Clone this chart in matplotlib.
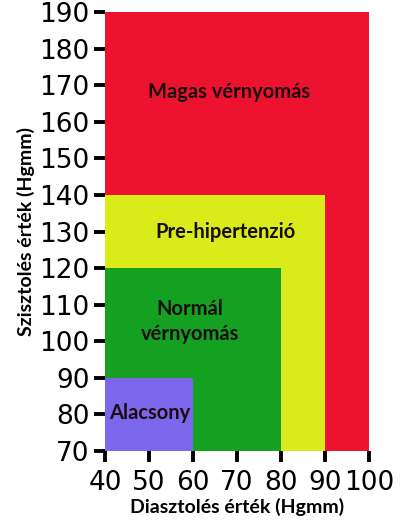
import matplotlib
matplotlib.use("Agg")
import matplotlib.pyplot as plt
from matplotlib.patches import Rectangle

# Zones: (label, diastolic upper, systolic upper, colour)
zone_labels = ["Magas vérnyomás", "Pre-hipertenzió", "Normál\nvérnyomás", "Alacsony"]
dia_upper = [100, 90, 80, 60]
sys_upper = [190, 140, 120, 90]
zone_colors = ["#EE1231", "#D9EC19", "#14A021", "#7B66EC"]
label_x = [68.3, 67.3, 59.3, 50.2]
label_y = [168.1, 130.0, 105.3, 80.4]

x_ticks = [40, 50, 60, 70, 80, 90, 100]
y_ticks = [70, 80, 90, 100, 110, 120, 130, 140, 150, 160, 170, 180, 190]
x_min, y_min = 40, 70

fig = plt.figure(figsize=(4.0, 5.24), dpi=100)
ax = fig.add_axes([0.2625, 0.1393, 0.66, 0.8377])

for du, su, c in zip(dia_upper, sys_upper, zone_colors):
    ax.add_patch(Rectangle((x_min, y_min), du - x_min, su - y_min,
                           facecolor=c, edgecolor="none"))

txt_font = dict(family=["Lato", "DejaVu Sans"], fontweight="bold", fontsize=14.5,
                color="#1a0d0d")
for lab, lx, ly in zip(zone_labels, label_x, label_y):
    ax.text(lx, ly, lab, ha="center", va="center", linespacing=1.3, **txt_font)

ax.set_xlim(40, 100)
ax.set_ylim(70, 190)
ax.set_xticks(x_ticks)
ax.set_yticks(y_ticks)
for s in ax.spines.values():
    s.set_visible(False)

tick_font = dict(family=["Liberation Sans Narrow", "DejaVu Sans"], fontsize=19)
ax.set_xticklabels([str(v) for v in x_ticks], **tick_font)
ax.set_yticklabels([str(v) for v in y_ticks], **tick_font)
ax.tick_params(axis="both", direction="out", length=8, width=2.8, color="black")
ax.tick_params(axis="x", pad=6)
ax.tick_params(axis="y", pad=3)

lab_font = dict(family=["Lato", "DejaVu Sans"], fontweight="bold", fontsize=14)
ax.set_xlabel("Diasztolés érték (Hgmm)", labelpad=1, **lab_font)
ax.set_ylabel("Szisztolés érték (Hgmm)", labelpad=3, **lab_font)

fig.savefig("out.png", dpi=100)
